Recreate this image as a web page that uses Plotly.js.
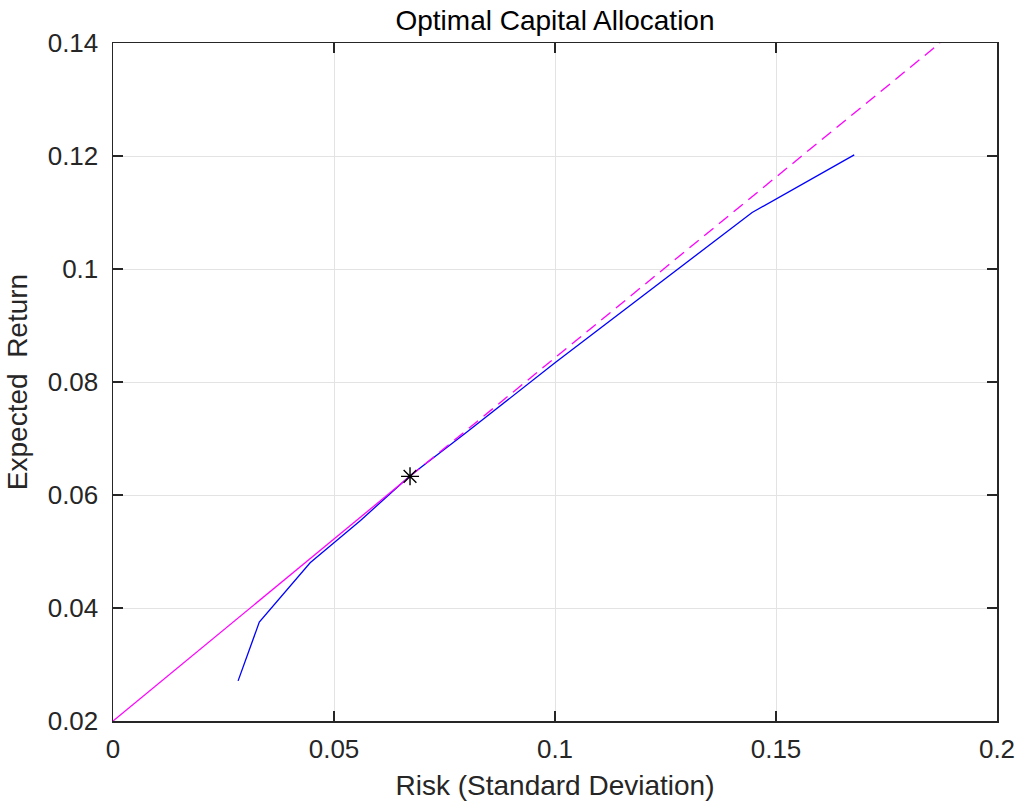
<!DOCTYPE html>
<html>
<head>
<meta charset="utf-8">
<script src="https://cdn.plot.ly/plotly-3.0.1.min.js"></script>
<style>html,body{margin:0;padding:0;background:#fff;}#chart{width:1019px;height:804px;}</style>
</head>
<body>
<div id="chart"></div>
<script>
// Efficient frontier (risk, return)
const frontierRisk   = [0.0283, 0.0331, 0.0446, 0.0560, 0.0672, 0.0800, 0.1000, 0.1200, 0.1446, 0.1677];
const frontierReturn = [0.0271, 0.0375, 0.0480, 0.0555, 0.0634, 0.0711, 0.0834, 0.0954, 0.1100, 0.1202];
// Capital allocation line
const tangentRisk = [0.0672];
const tangentReturn = [0.0633];
const calSolidRisk = [0, 0.0672];
const calSolidReturn = [0.02, 0.0633];
const calDashRisk = [0.0672, 0.1871];
const calDashReturn = [0.0633, 0.14];
const xTicks = [0, 0.05, 0.1, 0.15, 0.2];
const xTickText = ['0', '0.05', '0.1', '0.15', '0.2'];
const yTicks = [0.02, 0.04, 0.06, 0.08, 0.1, 0.12, 0.14];
const yTickText = ['0.02', '0.04', '0.06', '0.08', '0.1', '0.12', '0.14'];

const fam = 'Liberation Sans, Arial, sans-serif';
const tickFont = {family: fam, size: 26, color: '#262626'};
const labelFont = {family: fam, size: 28, color: '#262626'};
const traces = [
  {x: frontierRisk, y: frontierReturn, mode: 'lines', line: {color: '#0000ff', width: 1.3}, hoverinfo: 'none'},
  {x: calSolidRisk, y: calSolidReturn, mode: 'lines', line: {color: '#ff00ff', width: 1.3}, hoverinfo: 'none'},
  {x: calDashRisk, y: calDashReturn, mode: 'lines', line: {color: '#ff00ff', width: 1.3, dash: '12px,7px'}, hoverinfo: 'none'},
  {x: tangentRisk, y: tangentReturn, mode: 'markers', marker: {symbol: 'asterisk-open', size: 15, color: '#000000', line: {color: '#000000', width: 1.4}}, hoverinfo: 'none'}
];
const axisCommon = {
  showgrid: true, gridcolor: '#e3e3e3', gridwidth: 1,
  showline: true, linecolor: '#262626', linewidth: 1.5, mirror: 'ticks',
  ticks: 'inside', ticklen: 10, tickwidth: 1.3, tickcolor: '#262626',
  zeroline: false, tickfont: tickFont
};
const layout = {
  width: 1019, height: 804,
  margin: {l: 113, r: 22, t: 43, b: 83},
  paper_bgcolor: '#ffffff', plot_bgcolor: '#ffffff',
  showlegend: false,
  title: {text: 'Optimal Capital Allocation', font: {family: fam, size: 28, color: '#000000'}, x: 0.5, xanchor: 'center', y: 0.975, yanchor: 'middle', xref: 'paper'},
  xaxis: Object.assign({}, axisCommon, {range: [0, 0.2], tickvals: xTicks, ticktext: xTickText, ticklabelstandoff: 4,
    title: {text: 'Risk (Standard Deviation)', font: labelFont, standoff: 12}}),
  yaxis: Object.assign({}, axisCommon, {range: [0.02, 0.14], tickvals: yTicks, ticktext: yTickText, ticklabelstandoff: 8,
    title: {text: 'Expected  Return', font: labelFont, standoff: 12}})
};
Plotly.newPlot('chart', traces, layout, {staticPlot: true});
</script>
</body>
</html>
